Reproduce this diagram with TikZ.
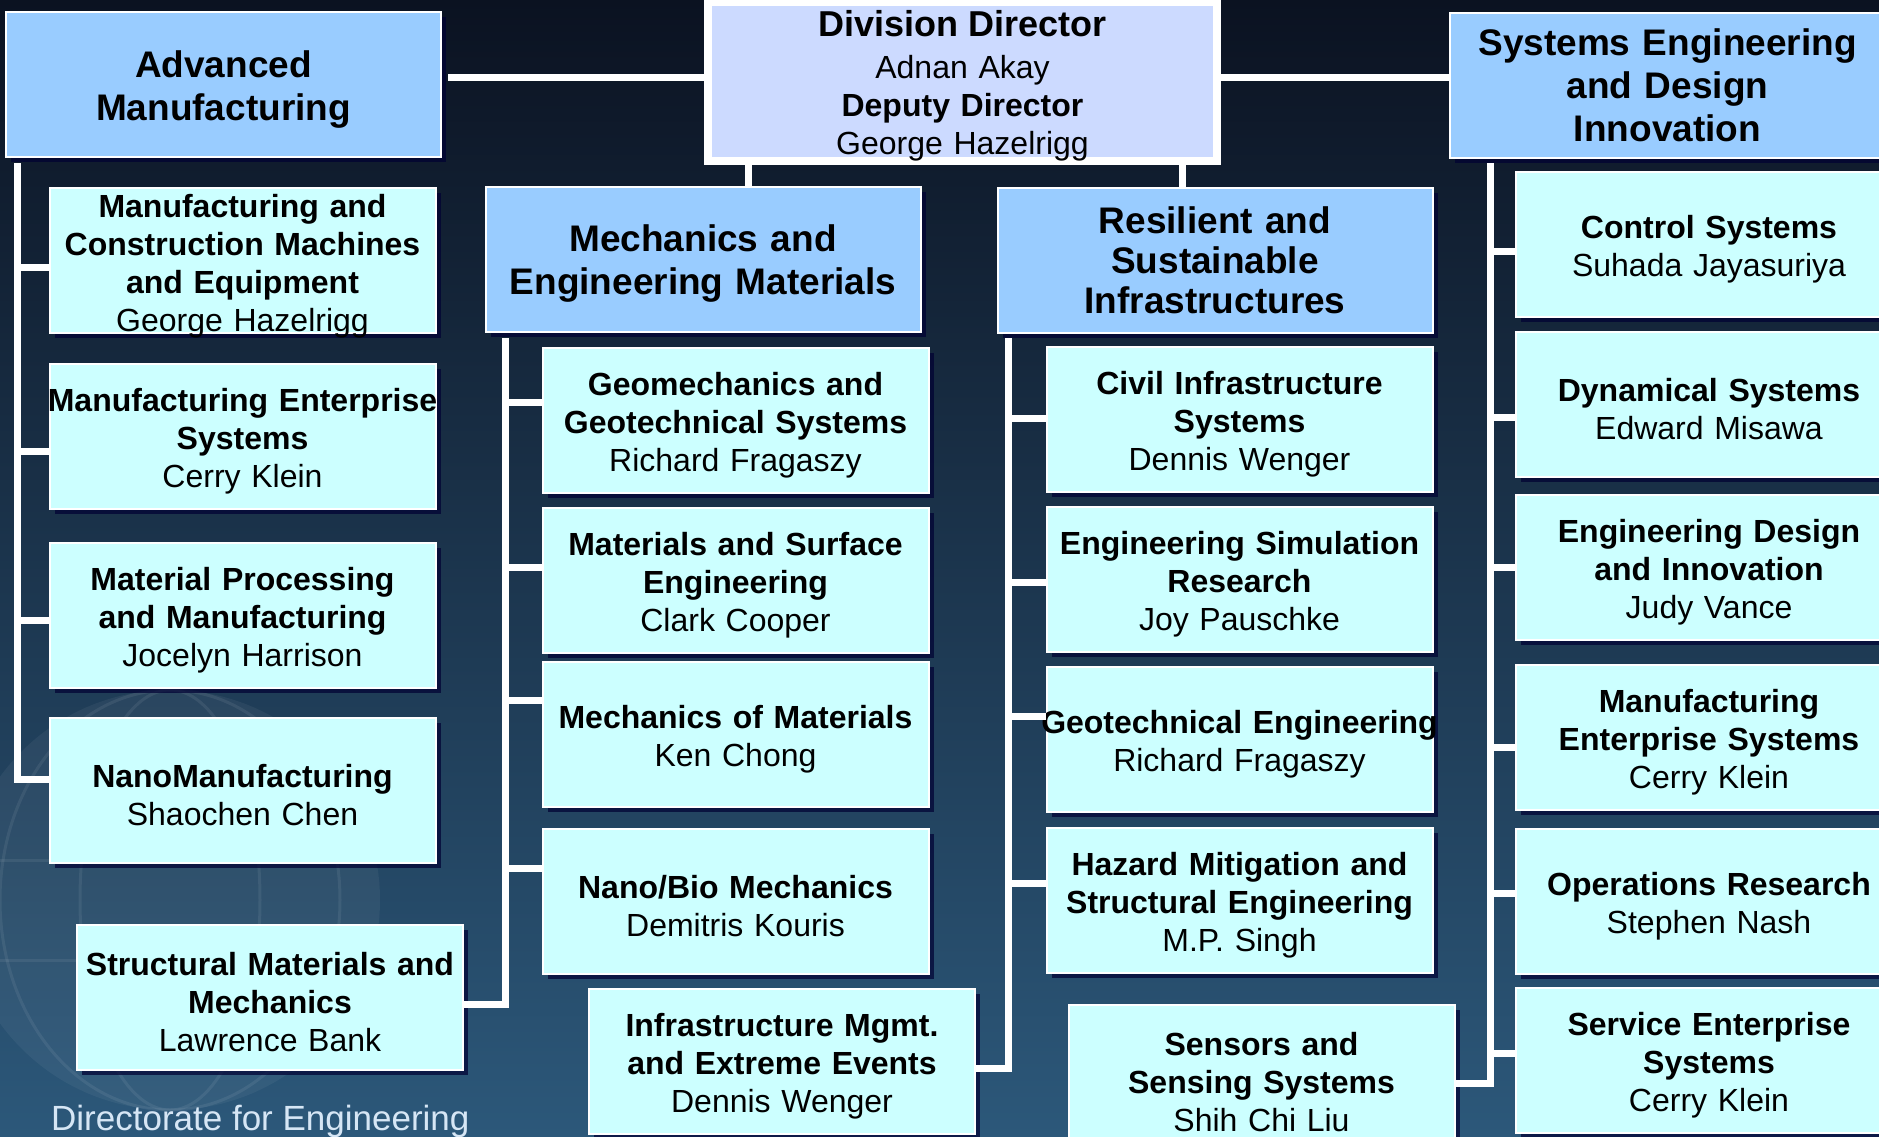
\documentclass[tikz,border=0pt]{standalone}
\usepackage{fontspec}
\setmainfont{Liberation Sans}
\usetikzlibrary{calc}
\usetikzlibrary{shadows}
\definecolor{bgtop}{RGB}{11,18,33}
\definecolor{bgmid}{RGB}{24,44,70}
\definecolor{bgbot}{RGB}{44,88,122}
\definecolor{hdrblue}{RGB}{153,204,255}
\definecolor{subcyan}{RGB}{204,255,255}
\definecolor{dirlav}{RGB}{204,218,255}
\definecolor{captxt}{RGB}{214,230,245}
\tikzset{link/.style = {draw=white, line width=7pt}}
\tikzset{boxshadow/.style = {drop shadow={shadow xshift=5pt, shadow yshift=-5pt, fill=black!80!blue, opacity=.7}}}
\tikzset{hdr/.style = {draw=white, line width=2pt, fill=hdrblue, text width=435pt, minimum height=145pt,
                       inner sep=0, align=center, font=\fontsize{37}{43}\selectfont\bfseries, boxshadow}}
\tikzset{sub/.style = {draw=white, line width=2pt, fill=subcyan, text width=386pt, minimum height=145pt,
                       inner sep=0, align=center, font=\fontsize{32}{38}\selectfont, boxshadow}}
\newcommand{\unitbox}[2]{\rule{0pt}{33pt}\textbf{#1}\\#2}
\newcommand{\wideline}[1]{\makebox[386pt]{#1}}

\begin{document}
\begin{tikzpicture}[x=1pt, y=-1pt]
      \useasboundingbox (0,0) rectangle (1879,1137);
      % background
      \shade[top color=bgtop, middle color=bgmid, bottom color=bgbot] (0,0) rectangle (1879,1137);
      \begin{scope}[white]
        \fill[opacity=.05] (170,900) circle (210pt);
        \draw[opacity=.07, line width=3pt] (170,900) ellipse (90pt and 210pt);
        \draw[opacity=.07, line width=3pt] (170,900) ellipse (170pt and 210pt);
        \draw[opacity=.07, line width=3pt] (-40,860) -- (380,860);
        \draw[opacity=.07, line width=3pt] (-20,960) -- (360,960);
      \end{scope}

      % director and groups
      \node [draw=white, line width=8pt, fill=dirlav, text width=509pt, minimum height=151pt, inner sep=0,
             align=center, font=\fontsize{32}{38}\selectfont] (dir) at (962.5,81.5)
            {\rule{0pt}{34pt}{\fontsize{36}{40}\selectfont\bfseries Division Director}\\[4pt]Adnan Akay\\\textbf{Deputy Director}\\George Hazelrigg};
      \node [hdr] (adv) at (223.5,84.5) {\rule{0pt}{36pt}Advanced\\Manufacturing};
      \node [hdr] (sed) at (1667.5,85.5) {Systems Engineering\\and Design\\Innovation};
      \node [hdr] (mem) at (703,259) {\rule{0pt}{35pt}Mechanics and\\Engineering Materials};
      \node [hdr] (rsi) at (1215,260.5) {Resilient and\\[-3pt]Sustainable\\[-3pt]Infrastructures};

      % programs
      \node [sub] (mcm) at (242.5,260.5) {\rule{0pt}{28pt}\textbf{Manufacturing and\\Construction Machines\\and Equipment}\\\smash{George Hazelrigg}};
      \node [sub] (mes) at (242.5,436.5) {\unitbox{\wideline{Manufacturing Enterprise}\\Systems}{Cerry Klein}};
      \node [sub] (mpm) at (242.5,615) {\unitbox{Material Processing\\and Manufacturing}{Jocelyn Harrison}};
      \node [sub] (nano) at (242.5,790) {\unitbox{NanoManufacturing}{Shaochen Chen}};
      \node [sub] (smm) at (270,997) {\unitbox{\wideline{Structural Materials and}\\Mechanics}{Lawrence Bank}};

      \node [sub] (geo) at (735.5,420.5) {\unitbox{Geomechanics and\\Geotechnical Systems}{Richard Fragaszy}};
      \node [sub] (mse) at (735.5,580.5) {\unitbox{Materials and Surface\\Engineering}{Clark Cooper}};
      \node [sub] (mom) at (735.5,734.5) {\unitbox{Mechanics of Materials}{Ken Chong}};
      \node [sub] (nbm) at (735.5,901) {\unitbox{Nano/Bio Mechanics}{Demitris Kouris}};
      \node [sub] (ime) at (782,1061) {\unitbox{Infrastructure Mgmt.\\and Extreme Events}{Dennis Wenger}};

      \node [sub] (cis) at (1239.5,419.5) {\unitbox{Civil Infrastructure\\Systems}{Dennis Wenger}};
      \node [sub] (esr) at (1239.5,579.5) {\unitbox{\wideline{Engineering Simulation}\\Research}{Joy Pauschke}};
      \node [sub] (geot) at (1239.5,739.5) {\unitbox{\wideline{Geotechnical Engineering}}{Richard Fragaszy}};
      \node [sub] (hms) at (1239.5,900.5) {\unitbox{Hazard Mitigation and\\\wideline{Structural Engineering}}{M.P. Singh}};
      \node [sub] (sss) at (1261.5,1077) {\unitbox{Sensors and\\Sensing Systems}{Shih Chi Liu}};

      \node [sub] (cs) at (1709,244.5) {\unitbox{Control Systems}{Suhada Jayasuriya}};
      \node [sub] (ds) at (1709,404.5) {\unitbox{Dynamical Systems}{Edward Misawa}};
      \node [sub] (edi) at (1709,567.5) {\unitbox{Engineering Design\\and Innovation}{Judy Vance}};
      \node [sub] (mes2) at (1709,737.5) {\unitbox{Manufacturing\\Enterprise Systems}{Cerry Klein}};
      \node [sub] (ors) at (1709,901) {\unitbox{\wideline{Operations Research}}{Stephen Nash}};
      \node [sub] (ses) at (1709,1060.5) {\unitbox{Service Enterprise\\Systems}{Cerry Klein}};

      \node [anchor=base west, inner sep=0, font=\fontsize{35}{40}\selectfont, text=captxt] (caption) at (51,1130) {Directorate for Engineering};

      % links to the director
      \coordinate (advtap) at ($(adv.east)+(6,-7)$);
      \draw [link] (advtap) -- (advtap -| dir.west);
      \coordinate (sedtap) at ($(sed.west)+(0,-8)$);
      \draw [link] (dir.east |- sedtap) -- (sedtap);
      \coordinate (memtap) at ($(mem.north)+(45,0)$);
      \draw [link] (memtap) -- (memtap |- dir.south);
      \coordinate (rsitap) at ($(rsi.north)+(-33,0)$);
      \draw [link] (rsitap) -- (rsitap |- dir.south);

      % trunks and branches
      \coordinate (advtrunk) at (17,163);
      \coordinate (memtrunk) at (505,338);
      \coordinate (rsitrunk) at (1008,338);
      \coordinate (sedtrunk) at (1490,163);
      \foreach \b/\dy in {mcm/7, mes/15, mpm/5, nano/-11}
        \draw [link] (advtrunk) |- ($(\b.west)+(0,\dy)$);
      \foreach \b/\dy in {geo/-18, mse/-13, mom/-34, nbm/-33}
        \draw [link] (memtrunk) |- ($(\b.west)+(0,\dy)$);
      \draw [link] (memtrunk) |- ($(smm.east)+(0,7)$);
      \foreach \b/\dy in {cis/-1, esr/3, geot/-23, hms/-17}
        \draw [link] (rsitrunk) |- ($(\b.west)+(0,\dy)$);
      \draw [link] (rsitrunk) |- ($(ime.east)+(0,7)$);
      \foreach \b/\dy in {cs/7, ds/13, edi/0, mes2/10, ors/-8, ses/-7}
        \draw [link] (sedtrunk) |- ($(\b.west)+(0,\dy)$);
      \draw [link] (sedtrunk) |- ($(sss.east)+(0,6)$);
    \end{tikzpicture}
\end{document}
